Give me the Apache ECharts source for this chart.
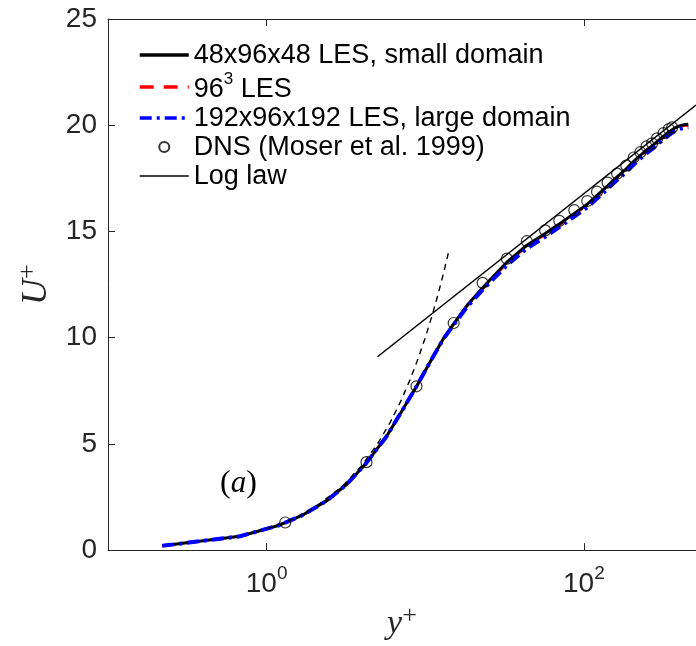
<!DOCTYPE html>
<html><head><meta charset="utf-8">
<script src="https://cdn.jsdelivr.net/npm/echarts@6/dist/echarts.min.js"></script>
<style>html,body{margin:0;padding:0;background:#fff}#c{width:696px;height:646px}</style>
</head><body><div id="c"></div>
<script>
// ---- data ----
const lesX    = [0.22, 0.68, 1.2, 1.7, 2.4, 3.2, 4.2, 5.7, 7.0, 8.8, 11, 13, 15.1, 18.5, 23, 27, 32.7, 43.7, 57, 70, 87, 105, 121, 141, 162, 185, 206, 227, 248, 269, 289, 318, 343, 370, 400, 430, 455];
const les48   = [0.2, 0.65, 1.17, 1.66, 2.33, 3.1, 4.05, 5.35, 6.45, 7.7, 9.0, 9.95, 10.65, 11.55, 12.35, 12.9, 13.55, 14.35, 14.9, 15.35, 15.85, 16.28, 16.7, 17.15, 17.57, 17.95, 18.3, 18.58, 18.83, 19.02, 19.23, 19.48, 19.68, 19.85, 19.97, 20.03, 20.05];
const les96   = [0.2, 0.65, 1.17, 1.66, 2.33, 3.1, 4.05, 5.35, 6.45, 7.7, 9.0, 9.95, 10.63, 11.52, 12.3, 12.85, 13.5, 14.3, 14.85, 15.3, 15.8, 16.23, 16.65, 17.1, 17.52, 17.9, 18.25, 18.53, 18.78, 18.97, 19.18, 19.43, 19.63, 19.8, 19.92, 19.98, 20.0];
const les192  = [0.2, 0.65, 1.17, 1.66, 2.33, 3.1, 4.05, 5.35, 6.45, 7.7, 9.0, 9.93, 10.6, 11.48, 12.25, 12.78, 13.4, 14.2, 14.75, 15.2, 15.7, 16.13, 16.55, 17.0, 17.42, 17.8, 18.15, 18.43, 18.68, 18.87, 19.08, 19.33, 19.53, 19.7, 19.82, 19.88, 19.9];
const dnsX    = [1.31, 4.26, 8.8, 15.1, 23.0, 32.7, 43.7, 57, 70, 87, 105, 121, 141, 162, 185, 206, 227, 248, 269, 289, 318, 343, 360];
const dnsU    = [1.3, 4.14, 7.71, 10.69, 12.58, 13.72, 14.54, 15.05, 15.5, 16.0, 16.43, 16.87, 17.3, 17.72, 18.1, 18.48, 18.73, 19.0, 19.15, 19.38, 19.63, 19.82, 19.9];
const logLawX = [5, 509];
const logLawU = [9.1, 20.95];
const linX    = [1, 1.5, 2, 3, 4, 5, 6, 7, 8, 9, 10, 11, 12, 13, 14];
const linU    = [1, 1.5, 2, 3, 4, 5, 6, 7, 8, 9, 10, 11, 12, 13, 14];
const xTickValues = [1, 100];
const yMin = 0, yMax = 25, yStep = 5;
const xMin = 0.1, xMax = 509;
const names = ['48x96x48 LES, small domain', '96^3 LES', '192x96x192 LES, large domain', 'DNS (Moser et al. 1999)', 'Log law'];

const pairs = (xs, ys) => xs.map((x, i) => [x, ys[i]]);
const axisColor = '#262626';
const sans = 'Liberation Sans';
const serif = 'Liberation Serif';

const chart = echarts.init(document.getElementById('c'), null, {renderer: 'canvas'});
const xAxisCommon = {
  type: 'log', logBase: 10, min: xMin, max: xMax,
  axisLine: {show: true, onZero: false, lineStyle: {color: axisColor, width: 1}},
  axisTick: {show: true, inside: true, length: 7, customValues: xTickValues, lineStyle: {color: axisColor, width: 1}},
  splitLine: {show: false}, minorTick: {show: false}, minorSplitLine: {show: false}
};
const hideSym = {opacity: 0};
chart.setOption({
  animation: false,
  backgroundColor: '#fff',
  grid: {left: 108, right: 0, top: 19, bottom: 90},
  xAxis: [
    Object.assign({}, xAxisCommon, {
      position: 'bottom',
      axisLabel: {
        customValues: xTickValues, margin: 14,
        formatter: v => '{b|10}{s|' + Math.round(Math.log10(v)) + '}',
        rich: {
          b: {fontSize: 28, lineHeight: 34, color: axisColor, fontFamily: sans, verticalAlign: 'bottom'},
          s: {fontSize: 19, lineHeight: 19, color: axisColor, fontFamily: sans, verticalAlign: 'top'}
        }
      },
      name: '{i|y}{s|+}', nameLocation: 'middle', nameGap: 50,
      nameTextStyle: {rich: {
        i: {fontSize: 34, fontStyle: 'italic', fontFamily: serif, color: axisColor, lineHeight: 38, verticalAlign: 'bottom'},
        s: {fontSize: 26, fontFamily: serif, color: axisColor, lineHeight: 26, verticalAlign: 'top'}
      }}
    }),
    Object.assign({}, xAxisCommon, {position: 'top', axisLabel: {show: false}})
  ],
  yAxis: {
    type: 'value', min: yMin, max: yMax, interval: yStep,
    axisLine: {show: true, lineStyle: {color: axisColor, width: 1}},
    axisTick: {show: true, inside: true, length: 7, lineStyle: {color: axisColor}},
    axisLabel: {fontSize: 28, color: axisColor, margin: 11, fontFamily: sans},
    splitLine: {show: false},
    name: '{i|U}{s|+}', nameLocation: 'middle', nameRotate: 90, nameGap: 51,
    nameTextStyle: {rich: {
      i: {fontSize: 36, fontStyle: 'italic', fontFamily: serif, color: axisColor, lineHeight: 40, verticalAlign: 'bottom'},
      s: {fontSize: 26, fontFamily: serif, color: axisColor, lineHeight: 26, verticalAlign: 'top'}
    }}
  },
  legend: {
    orient: 'vertical', left: 133, top: 37, itemWidth: 49, itemHeight: 10, itemGap: 2,
    data: [
      {name: names[0], itemStyle: hideSym, lineStyle: {width: 3.5}},
      {name: names[1], itemStyle: hideSym, lineStyle: {width: 3.5}},
      {name: names[2], itemStyle: hideSym, lineStyle: {width: 3.5}},
      {name: names[3]},
      {name: names[4], itemStyle: hideSym, lineStyle: {width: 1.5}}
    ],
    formatter: n => n === '96^3 LES' ? '{n|96}{sup|3}{n| LES}' : '{n|' + n + '}',
    textStyle: {color: '#000', fontFamily: sans, fontSize: 27, rich: {
      n: {fontSize: 27, color: '#000', fontFamily: sans, lineHeight: 28, verticalAlign: 'bottom'},
      sup: {fontSize: 17, color: '#000', fontFamily: sans, lineHeight: 32, verticalAlign: 'top'}
    }}
  },
  series: [
    {name: names[0], type: 'line', data: pairs(lesX, les48), showSymbol: false, symbol: 'none',
     lineStyle: {color: '#000', width: 3}, itemStyle: {color: '#000'}, z: 3},
    {name: names[1], type: 'line', data: pairs(lesX, les96), showSymbol: false, symbol: 'none',
     lineStyle: {color: '#ff0000', width: 2.5, type: [14, 10]}, itemStyle: {color: '#ff0000'}, z: 2},
    {name: names[2], type: 'line', data: pairs(lesX, les192), showSymbol: false, symbol: 'none',
     lineStyle: {color: '#0000ff', width: 4, type: [12, 5, 3, 5]}, itemStyle: {color: '#0000ff'}, z: 4},
    {name: names[3], type: 'scatter', data: pairs(dnsX, dnsU), symbol: 'circle', symbolSize: 11,
     itemStyle: {color: 'rgba(0,0,0,0)', borderColor: '#000', borderWidth: 1.2}, z: 5},
    {name: names[4], type: 'line', data: pairs(logLawX, logLawU), showSymbol: false, symbol: 'none',
     lineStyle: {color: '#000', width: 1.5}, itemStyle: {color: '#000'}, z: 5},
    {name: 'linear', type: 'line', data: pairs(linX, linU), showSymbol: false, symbol: 'none',
     lineStyle: {color: '#000', width: 1.4, type: [6, 5]}, itemStyle: {color: '#000'}, z: 5}
  ],
  graphic: [{
    type: 'text', left: 220, top: 468,
    style: {text: '{p|(}{a|a}{p|)}', rich: {
      p: {fontSize: 32, fontFamily: serif, fill: '#000'},
      a: {fontSize: 31, fontFamily: serif, fontStyle: 'italic', fill: '#000'}
    }}
  }]
});
</script>
</body></html>
